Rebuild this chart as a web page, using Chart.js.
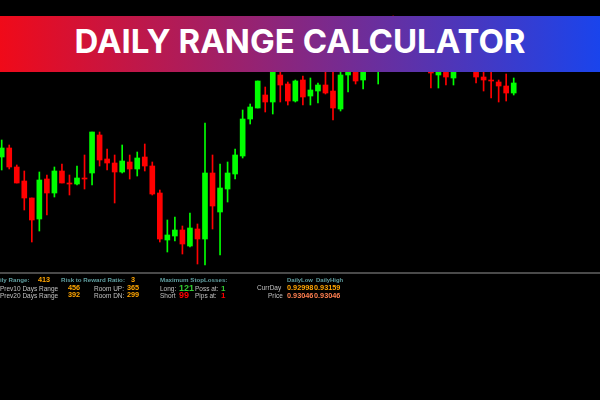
<!DOCTYPE html>
<html>
<head>
<meta charset="utf-8">
<title>Daily Range Calculator</title>
<script src="https://cdn.jsdelivr.net/npm/chart.js@4.4.1/dist/chart.umd.min.js"></script>
<style>
html, body { margin: 0; padding: 0; background: #000; }
#wrap { position: relative; width: 600px; height: 400px; overflow: hidden; background: #000; }
#chart { position: absolute; left: 0; top: 0; }
.banner {
  position: absolute; left: 0; top: 16px; width: 600px; height: 56px;
  background: linear-gradient(to right, #f00a19, #1a44ec);
  color: #fff; font: 700 33px Inter, "Open Sans", sans-serif;
  text-align: center; line-height: 50px;
}
.sep { position: absolute; left: 0; top: 272px; width: 600px; height: 2px; background: #4a4a4a; }
.t { position: absolute; font: 6.5px "Liberation Sans", Arial, sans-serif; white-space: nowrap; line-height: 8px; }
.lbl { color: #5f9ea0; font-weight: bold; font-size: 6.2px; }
.gry { color: #c0c0c0; }
.val { color: #ffa500; font-weight: bold; font-size: 7.3px; }
.big { font-weight: bold; font-size: 9px; line-height: 10px; }
.cor { color: #ff7f50; font-weight: bold; font-size: 7.3px; }
</style>
</head>
<body>
<div id="wrap">
  <canvas id="chart" width="600" height="400"></canvas>
  <div class="banner">DAILY RANGE CALCULATOR</div>
  <div class="sep"></div>

  <!-- info panel -->
  <span class="t lbl" style="left:-8px; top:276px;">Daily Range:</span>
  <span class="t val" style="left:38px; top:276px;">413</span>
  <span class="t lbl" style="left:61px; top:276px;">Risk to Reward Ratio:</span>
  <span class="t val" style="left:131px; top:276px;">3</span>
  <span class="t lbl" style="left:160px; top:276px;">Maximum StopLosses:</span>

  <span class="t gry" style="left:0px; top:285px;">Prev10 Days Range</span>
  <span class="t val" style="left:68px; top:284px;">456</span>
  <span class="t gry" style="left:94px; top:285px;">Room UP:</span>
  <span class="t val" style="left:127px; top:284px;">365</span>
  <span class="t gry" style="left:160px; top:285px;">Long:</span>
  <span class="t big" style="left:179px; top:283px; color:#32cd32;">121</span>
  <span class="t gry" style="left:195px; top:285px;">Poss at:</span>
  <span class="t big" style="left:221px; top:284px; color:#32cd32; font-size:8px;">1</span>

  <span class="t gry" style="left:0px; top:292px;">Prev20 Days Range</span>
  <span class="t val" style="left:68px; top:291px;">392</span>
  <span class="t gry" style="left:94px; top:292px;">Room DN:</span>
  <span class="t val" style="left:127px; top:291px;">299</span>
  <span class="t gry" style="left:160px; top:292px;">Short</span>
  <span class="t big" style="left:179px; top:290px; color:#ff0000;">99</span>
  <span class="t gry" style="left:195px; top:292px;">Pips at:</span>
  <span class="t big" style="left:221px; top:291px; color:#ff0000; font-size:8px;">1</span>

  <span class="t lbl" style="left:287px; top:276px; font-size:5.9px;">DailyLow</span>
  <span class="t lbl" style="left:316px; top:276px; font-size:5.9px;">DailyHigh</span>
  <span class="t gry" style="left:257px; top:284px;">CurrDay</span>
  <span class="t val" style="left:287px; top:284px;">0.92998</span>
  <span class="t val" style="left:314px; top:284px;">0.93159</span>
  <span class="t gry" style="left:268px; top:292px;">Price</span>
  <span class="t cor" style="left:287px; top:292px;">0.93046</span>
  <span class="t cor" style="left:314px; top:292px;">0.93046</span>
</div>

<script>
// candle values (price)
const opens  = [0.93243,0.93252,0.93233,0.93219,0.93202,0.93181,0.93221,0.93207,0.93229,0.93217,
                0.93216,0.93222,0.93227,0.93265,0.93241,0.93237,0.93228,0.93238,0.93231,0.93243,
                0.93234,0.93207,0.93160,0.93164,0.93170,0.93154,0.93171,0.93161,0.93227,0.93188,
                0.93211,0.93226,0.93244,0.93281,0.93292,0.93305,0.93298,0.93325,0.93316,0.93299,
                0.93320,0.93304,0.93309,0.93315,0.93309,0.93291,0.93325,0.93338,0.93320,0.93344,
                0.93334,0.93348,0.93364,0.93352,0.93340,0.93354,0.93343,0.93334,0.93325,0.93336,
                0.93322,0.93340,0.93332,0.93340,0.93323,0.93320,0.93318,0.93314,0.93307];
const highs  = [0.93260,0.93255,0.93235,0.93229,0.93202,0.93228,0.93225,0.93233,0.93236,0.93225,
                0.93234,0.93245,0.93268,0.93268,0.93251,0.93245,0.93255,0.93245,0.93248,0.93256,
                0.93238,0.93210,0.93180,0.93183,0.93174,0.93187,0.93176,0.93277,0.93245,0.93236,
                0.93238,0.93251,0.93290,0.93296,0.93319,0.93313,0.93330,0.93328,0.93318,0.93320,
                0.93324,0.93322,0.93317,0.93336,0.93334,0.93330,0.93348,0.93345,0.93352,0.93356,
                0.93360,0.93370,0.93384,0.93360,0.93364,0.93362,0.93350,0.93345,0.93344,0.93342,
                0.93340,0.93348,0.93350,0.93348,0.93338,0.93332,0.93320,0.93326,0.93322];
const lows   = [0.93230,0.93231,0.93217,0.93190,0.93158,0.93169,0.93185,0.93203,0.93217,0.93205,
                0.93215,0.93211,0.93215,0.93234,0.93230,0.93197,0.93227,0.93221,0.93224,0.93229,
                0.93205,0.93158,0.93148,0.93159,0.93146,0.93153,0.93136,0.93135,0.93171,0.93145,
                0.93198,0.93221,0.93242,0.93276,0.93292,0.93288,0.93286,0.93298,0.93295,0.93298,
                0.93295,0.93295,0.93297,0.93306,0.93280,0.93289,0.93308,0.93316,0.93311,0.93330,
                0.93316,0.93342,0.93345,0.93334,0.93336,0.93336,0.93330,0.93312,0.93312,0.93315,
                0.93315,0.93330,0.93330,0.93317,0.93309,0.93302,0.93298,0.93299,0.93305];
const closes = [0.93252,0.93233,0.93217,0.93202,0.93180,0.93220,0.93207,0.93229,0.93217,0.93216,
                0.93222,0.93221,0.93268,0.93240,0.93237,0.93228,0.93239,0.93231,0.93242,0.93234,
                0.93206,0.93161,0.93165,0.93170,0.93156,0.93172,0.93161,0.93227,0.93194,0.93212,
                0.93227,0.93245,0.93281,0.93293,0.93319,0.93298,0.93328,0.93315,0.93299,0.93319,
                0.93303,0.93310,0.93315,0.93307,0.93292,0.93325,0.93340,0.93319,0.93342,0.93334,
                0.93350,0.93364,0.93352,0.93340,0.93356,0.93342,0.93334,0.93327,0.93336,0.93323,
                0.93334,0.93332,0.93342,0.93323,0.93320,0.93319,0.93314,0.93307,0.93317];

const idx = opens.map((_, i) => i);
const candleColors = idx.map(i => closes[i] >= opens[i] ? '#00ff00' : '#ff0000');

const ctx = document.getElementById('chart').getContext('2d');
const chart = new Chart(ctx, {
  type: 'bar',
  data: {
    datasets: [
      {
        label: 'Body',
        data: idx.map(i => ({ x: i, y: [opens[i], closes[i]] })),
        backgroundColor: candleColors,
        barThickness: 5,
        minBarLength: 1,
        grouped: false,
        order: 1
      },
      {
        label: 'Wick',
        data: idx.map(i => ({ x: i, y: [lows[i], highs[i]] })),
        backgroundColor: candleColors,
        barThickness: 1,
        grouped: false,
        order: 2
      }
    ]
  },
  options: {
    responsive: false,
    animation: false,
    layout: { padding: 0 },
    plugins: {
      legend: { display: false },
      tooltip: { enabled: false }
    },
    scales: {
      x: { type: 'linear', min: -0.226, max: 79.46, display: false, offset: false },
      y: { min: 0.93000, max: 0.93400, display: false }
    }
  }
});
</script>
</body>
</html>
